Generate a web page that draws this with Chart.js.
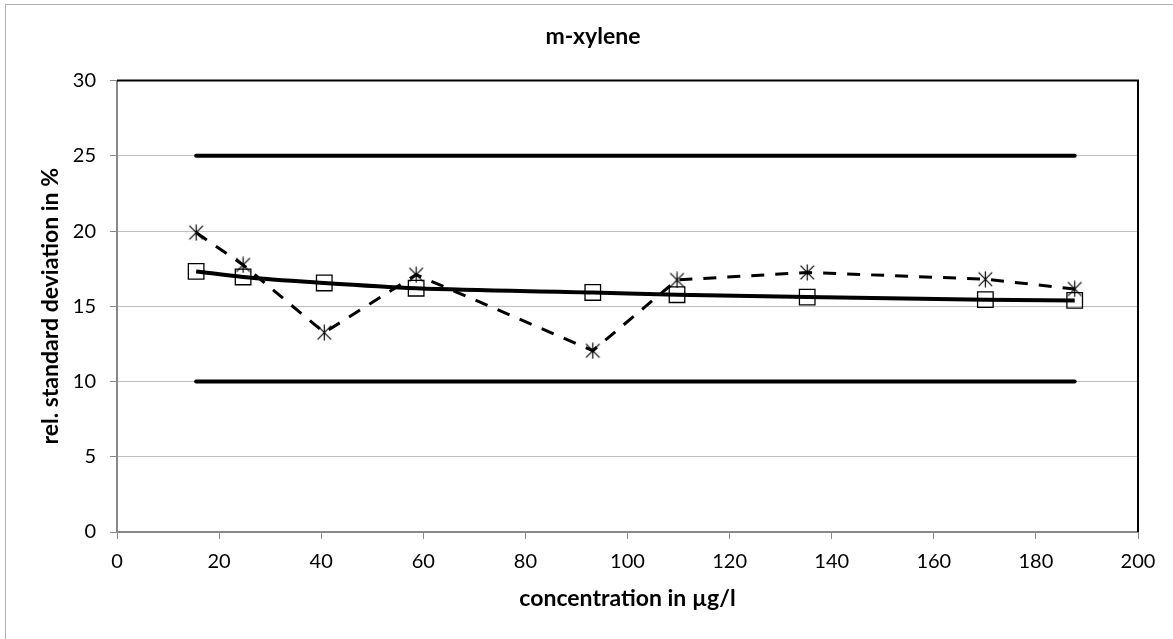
<!DOCTYPE html>
<html>
<head>
<meta charset="utf-8">
<script src="https://cdn.jsdelivr.net/npm/chart.js@4.4.0/dist/chart.umd.min.js"></script>
<style>
  html,body{margin:0;padding:0;background:#fff;}
</style>
</head>
<body>
<canvas id="chart" width="1173" height="639"></canvas>
<script>
// m-xylene: relative standard deviation vs concentration
const concentration = [15.5, 24.7, 40.6, 58.6, 93.2, 109.7, 135.2, 170.1, 187.6];
const rsdMeasured   = [19.9, 17.75, 13.25, 17.1, 12.05, 16.75, 17.25, 16.8, 16.15];
const rsdFitted     = [17.32, 16.95, 16.55, 16.2, 15.92, 15.77, 15.61, 15.44, 15.39];
const upperLimit = 25;
const lowerLimit = 10;
const xTickValues = [0, 20, 40, 60, 80, 100, 120, 140, 160, 180, 200];
const yTickValues = [0, 5, 10, 15, 20, 25, 30];

const chartTitle = 'm-xylene';
const xTitle = 'concentration in µg/l';
const yTitle = 'rel. standard deviation in %';

const FONT = 'Lato, "Open Sans", sans-serif';
const AXIS_GREY = '#898989';

// excel-like star marker: X plus vertical stroke
function starMarker(size){
  const c = document.createElement('canvas');
  c.width = size; c.height = size;
  const g = c.getContext('2d');
  const m = size/2, r = size/2 - 0.5;
  g.strokeStyle = '#000';
  g.lineWidth = 1.2;
  g.beginPath();
  g.moveTo(m, m - r); g.lineTo(m, m + r);
  g.moveTo(m - r*0.85, m - r*0.85); g.lineTo(m + r*0.85, m + r*0.85);
  g.moveTo(m + r*0.85, m - r*0.85); g.lineTo(m - r*0.85, m + r*0.85);
  g.stroke();
  return c;
}

const pts = (ys) => concentration.map((x,i)=>({x:x, y:ys[i]}));
const limitPts = (v) => [{x:concentration[0], y:v}, {x:concentration[concentration.length-1], y:v}];

// white background, outer frame, black top/right plot border
const framePlugin = {
  id:'frame',
  beforeDraw(chart){
    const ctx = chart.ctx;
    ctx.save();
    ctx.fillStyle = '#fff';
    ctx.fillRect(0,0,chart.width,chart.height);
    ctx.strokeStyle = '#b4b4b4';
    ctx.lineWidth = 1;
    ctx.strokeRect(5.5, 4.5, chart.width + 20, chart.height + 20);
    ctx.restore();
  },
  afterDatasetsDraw(chart){
    const {ctx, chartArea:a} = chart;
    ctx.save();
    ctx.strokeStyle = '#000';
    ctx.lineWidth = 2;
    ctx.beginPath();
    ctx.moveTo(a.left, a.top); ctx.lineTo(a.right, a.top); ctx.lineTo(a.right, a.bottom);
    ctx.stroke();
    ctx.restore();
  }
};

const ctx = document.getElementById('chart').getContext('2d');
new Chart(ctx, {
  type:'line',
  data:{
    datasets:[
      {
        label:'measured',
        data:pts(rsdMeasured),
        borderColor:'#000', borderWidth:3, borderDash:[13,11],
        pointStyle:starMarker(17), pointRadius:8,
        tension:0, fill:false
      },
      {
        label:'fitted',
        data:pts(rsdFitted),
        borderColor:'#000', borderWidth:4,
        cubicInterpolationMode:'monotone',
        pointStyle:'rect', pointRadius:11,
        pointBorderColor:'#000', pointBorderWidth:1.3,
        pointBackgroundColor:'rgba(0,0,0,0)',
        fill:false
      },
      {
        label:'upper',
        data:limitPts(upperLimit),
        borderColor:'#000', borderWidth:4, borderCapStyle:'round',
        pointRadius:0, fill:false
      },
      {
        label:'lower',
        data:limitPts(lowerLimit),
        borderColor:'#000', borderWidth:4, borderCapStyle:'round',
        pointRadius:0, fill:false
      }
    ]
  },
  options:{
    responsive:false,
    animation:false,
    devicePixelRatio:1,
    layout:{padding:{left:48, right:35, top:0, bottom:0}},
    plugins:{
      legend:{display:false},
      tooltip:{enabled:false},
      title:{
        display:true, text:chartTitle, color:'#000',
        font:{family:FONT, size:23, weight:'bold'},
        padding:{top:23, bottom:30}
      }
    },
    scales:{
      x:{
        type:'linear', min:0, max:200,
        afterBuildTicks: s => { s.ticks = xTickValues.map(v=>({value:v})); },
        afterFit: s => { s.height = 107; },
        ticks:{color:'#000', font:{family:FONT, size:20}, padding:11, maxRotation:0, autoSkip:false},
        grid:{drawOnChartArea:false, tickLength:7, tickColor:AXIS_GREY, tickWidth:1},
        border:{color:AXIS_GREY, width:2},
        title:{display:true, text:xTitle, color:'#000', font:{family:FONT, size:23, weight:'bold'}, padding:{top:0, bottom:27}}
      },
      y:{
        min:0, max:30,
        afterBuildTicks: s => { s.ticks = yTickValues.map(v=>({value:v})); },
        afterFit: s => { s.width = 69; },
        ticks:{color:'#000', font:{family:FONT, size:20}, padding:14},
        grid:{color:'#c0c0c0', lineWidth:1, tickLength:7, tickColor:AXIS_GREY},
        border:{color:AXIS_GREY, width:2},
        title:{display:true, text:yTitle, color:'#000', font:{family:FONT, size:23, weight:'bold'}, padding:{top:-11, bottom:0}}
      }
    }
  },
  plugins:[framePlugin]
});
</script>
</body>
</html>
